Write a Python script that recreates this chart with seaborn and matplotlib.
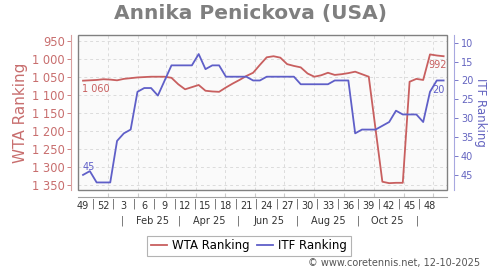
import matplotlib
matplotlib.use("Agg")
import matplotlib.pyplot as plt
import matplotlib.ticker as mticker
from matplotlib.lines import Line2D
from matplotlib.patches import Rectangle
import seaborn as sns
import pandas as pd
import numpy as np

# ---------------- data ----------------
WTA = [1060, 1059, 1058, 1056, 1057, 1059, 1055, 1053, 1051, 1050,
       1049, 1049, 1049, 1052, 1070, 1084, 1078, 1072, 1088, 1090,
       1091, 1079, 1068, 1058, 1047, 1038, 1016, 995, 992, 996,
       1014, 1019, 1023, 1040, 1049, 1045, 1038, 1044, 1042, 1039,
       1035, 1042, 1049, 1195, 1341, 1345, 1344, 1344, 1063, 1055,
       1058, 987, 990, 992]
ITF = [45, 44, 47, 47, 47, 36, 34, 33, 23, 22,
       22, 24, 20, 16, 16, 16, 16, 13, 17, 16,
       16, 19, 19, 19, 19, 20, 20, 19, 19, 19,
       19, 19, 21, 21, 21, 21, 21, 20, 20, 20,
       34, 33, 33, 33, 32, 31, 28, 29, 29, 29,
       31, 23, 20, 20]
WEEK_LABELS = ["49", "52", "3", "6", "9", "12", "15", "18", "21", "24",
               "27", "30", "33", "36", "39", "42", "45", "48"]
MONTH_LABELS = ["Feb 25", "Apr 25", "Jun 25", "Aug 25", "Oct 25"]
START = pd.Timestamp("2024-12-06")

RED = "#c85f5f"
BLUE = "#5f5fc8"
RED_T = "#c86e6e"
BLUE_T = "#6464c0"

def wk(ts):
    return (pd.Timestamp(ts) - START).days / 7.0

df = pd.DataFrame({"week": np.arange(len(WTA)), "WTA": WTA, "ITF": ITF})

fig = plt.figure(figsize=(5, 2.7), dpi=100)
ax = fig.add_axes([78 / 500, 1 - 190 / 270, (447 - 78) / 500, (190 - 35) / 270])
ax.set_facecolor("#fafafa")

sns.lineplot(data=df, x="week", y="WTA", ax=ax, color=RED, lw=1.3, legend=False)
ax2 = ax.twinx()
sns.lineplot(data=df, x="week", y="ITF", ax=ax2, color=BLUE, lw=1.3, legend=False)

ax.set_xlim(-0.74, 53.5)
ax.set_ylim(1364, 933)
ax2.set_ylim(49.0, 7.96)

# left axis
ax.set_yticks(np.arange(950, 1351, 50))
ax.yaxis.set_major_formatter(mticker.FuncFormatter(lambda v, p: f"{int(v):,}".replace(",", " ")))
ax.tick_params(axis="y", colors=RED_T, labelsize=8.3, length=3, width=0.6, pad=1.5)
ax.set_ylabel("WTA Ranking", color=RED_T, fontsize=11, labelpad=3)

# right axis
ax2.set_yticks(np.arange(10, 46, 5))
ax2.tick_params(axis="y", colors=BLUE_T, labelsize=7, length=3, width=0.6, pad=2)
ax2.set_ylabel("ITF Ranking", color=BLUE_T, fontsize=8.5, rotation=270, labelpad=10)

# spines
for a in (ax, ax2):
    for s in a.spines.values():
        s.set_visible(False)
ax.spines["left"].set_visible(True)
ax.spines["left"].set_position(("outward", 5))
ax.spines["left"].set_color("#d8a0a0")
ax.spines["left"].set_linewidth(0.8)
ax.spines["bottom"].set_visible(True)
ax.spines["bottom"].set_position(("outward", 5))
ax.spines["bottom"].set_color("#a0a0a0")
ax.spines["bottom"].set_linewidth(0.8)
ax2.spines["right"].set_visible(True)
ax2.spines["right"].set_position(("outward", 5))
ax2.spines["right"].set_color("#a8a8e0")
ax2.spines["right"].set_linewidth(0.8)
ax.add_patch(Rectangle((0, 0), 1, 1, transform=ax.transAxes, fill=False,
                       edgecolor="#808080", lw=1.0, zorder=5, clip_on=False))

# x axis: month grid + week labels
month_starts = [wk(d) for d in pd.date_range("2025-01-01", "2025-12-01", freq="MS")]
ax.set_xticks(month_starts)
ax.set_xticklabels([])
ax.tick_params(axis="x", which="major", direction="in", length=3, color="#cccccc")
week_pos = np.arange(len(WEEK_LABELS)) * 3
ax.set_xticks(week_pos, minor=True)
ax.set_xticklabels(WEEK_LABELS, minor=True)
ax.tick_params(axis="x", which="minor", length=0, labelsize=7, colors="#333333", pad=3)
ax.set_xlabel("")
ax.grid(True, which="major", ls=(0, (3, 3)), color="#dcdcdc", lw=0.7)
ax2.grid(False)
ax.set_axisbelow(True)

trans = ("data", "axes fraction")
for p in week_pos[:-1] + 1.5:
    ax.annotate("|", xy=(p, 0), xycoords=trans, xytext=(0, -10.2), textcoords="offset points",
                ha="center", va="center", fontsize=7, color="#555555")
month_mid = [wk(f"2025-{m:02d}-15") for m in (2, 4, 6, 8, 10)]
for lab, p in zip(MONTH_LABELS, month_mid):
    ax.annotate(lab, xy=(p, 0), xycoords=trans, xytext=(0, -22.3), textcoords="offset points",
                ha="center", va="center", fontsize=7, color="#333333")
for m in (1, 3, 5, 7, 9, 11):
    ax.annotate("|", xy=(wk(f"2025-{m:02d}-15"), 0), xycoords=trans, xytext=(0, -22.3),
                textcoords="offset points", ha="center", va="center", fontsize=7, color="#555555")

# value labels at ends
fmt = lambda v: f"{int(v):,}".replace(",", " ")
ax.annotate(fmt(WTA[0]), xy=(0, WTA[0]), xytext=(-1, -6), textcoords="offset points",
            ha="left", va="center", fontsize=7, color=RED)
ax.annotate(fmt(WTA[-1]), xy=(len(WTA) - 1, WTA[-1]), xytext=(2, -6), textcoords="offset points",
            ha="right", va="center", fontsize=7, color=RED)
ax2.annotate(fmt(ITF[0]), xy=(0, ITF[0]), xytext=(0, 6), textcoords="offset points",
             ha="left", va="center", fontsize=7, color=BLUE)
ax2.annotate(fmt(ITF[-1]), xy=(len(ITF) - 1, ITF[-1]), xytext=(1, -7), textcoords="offset points",
             ha="right", va="center", fontsize=7, color=BLUE)

# title, legend, footer
fig.text(0.5, 1 - 13 / 270, "Annika Penickova (USA)", ha="center", va="center",
         fontsize=14.5, fontweight="bold", color="#7f7f7f")
handles = [Line2D([], [], color=RED, lw=1.3), Line2D([], [], color=BLUE, lw=1.3)]
leg = fig.legend(handles, ["WTA Ranking", "ITF Ranking"], loc="center",
                 bbox_to_anchor=(249 / 500, 1 - 246 / 270), ncol=2, fontsize=8.5,
                 frameon=True, fancybox=False, edgecolor="#a0a0a0", handlelength=1.4,
                 handletextpad=0.4, columnspacing=0.6, borderpad=0.3)
leg.get_frame().set_linewidth(0.8)
fig.text(480 / 500, 1 - 263 / 270, "© www.coretennis.net, 12-10-2025", ha="right",
         va="center", fontsize=7, color="#555555")

fig.savefig("out.png", dpi=100)
